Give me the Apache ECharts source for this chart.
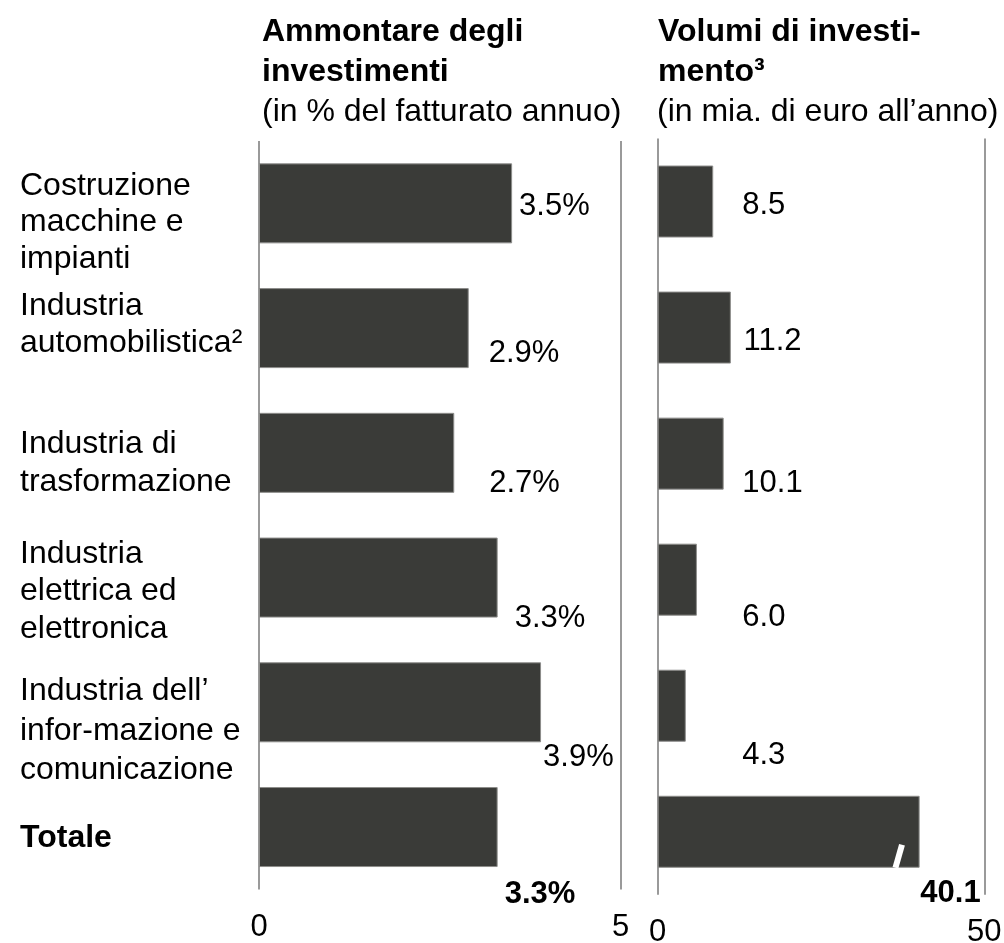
<!DOCTYPE html>
<html>
<head>
<meta charset="utf-8">
<script src="https://cdn.jsdelivr.net/npm/echarts@6/dist/echarts.min.js"></script>
<style>
html,body{margin:0;padding:0;background:#fff;}
#c{width:1004px;height:943px;}
</style>
</head>
<body>
<div id="c"></div>
<script>
// ---- data ----
const categories = [
  'Costruzione\nmacchine e\nimpianti',
  'Industria\nautomobilistica²',
  'Industria di\ntrasformazione',
  'Industria\nelettrica ed\nelettronica',
  'Industria dell’\ninfor-mazione e\ncomunicazione',
  'Totale'
];
const shareValues = [3.5, 2.9, 2.7, 3.3, 3.9, 3.3];      // % del fatturato annuo
const volumeValues = [8.5, 11.2, 10.1, 6.0, 4.3, 40.1];  // mia. di euro all'anno
const shareTicks = [0, 5];
const volumeTicks = [0, 50];
const leftTitle = 'Ammontare degli\ninvestimenti';
const leftSubtitle = '(in % del fatturato annuo)';
const rightTitle = 'Volumi di investi-\nmento³';
const rightSubtitle = '(in mia. di euro all’anno)';

// ---- layout / style (not data) ----
const FONT = '"Liberation Sans", Arial, Helvetica, sans-serif';
const BAR = '#3a3b38';
const LINE = '#9a9a9a';
const FS = 31;      // value labels / ticks
const FS_T = 32;    // titles & categories
const shareLabelOffsets = [[0, 3], [13, 25], [28, 31], [10, 41], [-5, 55], [0, 67]];
const volumeLabelOffsets = [[29, 4], [12.7, 14], [18.7, 30], [45.4, 38], [56.4, 50], [0.7, 62]];
const rowOffsets = [19, -3.5, 10, 14, 28.5, 11.5];
const rowLineHeights = [36.5, 37, 38, 37.5, 39.5, 36];
const lastIdx = categories.length - 1;

const chart = echarts.init(document.getElementById('c'), null, {renderer: 'canvas'});

function valueAxis(gridIndex, ticks, margin) {
  return {
    gridIndex: gridIndex, type: 'value',
    min: ticks[0], max: ticks[ticks.length - 1], interval: ticks[1] - ticks[0],
    axisLine: {show: false}, axisTick: {show: false},
    splitLine: {show: true, lineStyle: {color: LINE, width: 2}},
    axisLabel: {fontSize: FS, color: '#000', fontFamily: FONT, margin: margin}
  };
}
function catAxis(gridIndex) {
  return {
    gridIndex: gridIndex, type: 'category', data: categories, inverse: true,
    axisLine: {show: false}, axisTick: {show: false}, axisLabel: {show: false}, splitLine: {show: false}
  };
}
function barSeries(idx, values, offsets, distance, barWidth, fmt) {
  return {
    type: 'bar', xAxisIndex: idx, yAxisIndex: idx, barWidth: barWidth,
    itemStyle: {color: BAR, borderColor: '#8d8d8b', borderWidth: 1},
    label: {show: true, position: 'right', distance: distance, fontSize: FS, color: '#000', fontFamily: FONT,
      formatter: p => fmt(p.value)},
    data: values.map((v, i) => ({
      value: v,
      label: {offset: offsets[i], fontWeight: i === lastIdx ? 'bold' : 'normal'}
    }))
  };
}

chart.setOption({
  animation: false,
  grid: [
    {left: 259, top: 141, width: 361.6, height: 748.4, outerBoundsMode: 'none', containLabel: false},
    {left: 657.7, top: 138.5, width: 326.6, height: 756.3, outerBoundsMode: 'none', containLabel: false}
  ],
  xAxis: [valueAxis(0, shareTicks, 23), valueAxis(1, volumeTicks, 22)],
  yAxis: [catAxis(0), catAxis(1)],
  series: [
    barSeries(0, shareValues, shareLabelOffsets, 7, 80, v => v.toFixed(1) + '%'),
    barSeries(1, volumeValues, volumeLabelOffsets, 0, 72, v => v.toFixed(1))
  ]
});

// ---- text & decoration placed from the axes ----
const graphics = [];
function txt(x, y, text, bold, lh, fs) {
  graphics.push({type: 'text', x: x, y: y, silent: true, style: {
    text: text, fill: '#000', fontSize: fs || FS_T, fontFamily: FONT, fontWeight: bold ? 'bold' : 'normal',
    verticalAlign: 'middle', align: 'left', lineHeight: lh || 38
  }});
}
categories.forEach((c, i) => {
  const y = chart.convertToPixel({yAxisIndex: 0}, i);
  txt(20, y + rowOffsets[i], c, i === lastIdx, rowLineHeights[i]);
});
txt(262, 52, leftTitle, true, 40);
txt(262, 112, leftSubtitle, false);
txt(658, 52, rightTitle, true, 40);
txt(657, 112, rightSubtitle, false);

// break mark on the total volume bar
const pb = chart.convertToPixel({gridIndex: 1}, [36.4, lastIdx]);
const pt = chart.convertToPixel({gridIndex: 1}, [37.4, lastIdx]);
const barBottom = pb[1] + 36;
graphics.push({type: 'line', silent: true, z: 100,
  shape: {x1: pb[0], y1: barBottom, x2: pt[0], y2: barBottom - 23},
  style: {stroke: '#fff', lineWidth: 6}});

chart.setOption({graphic: graphics});
</script>
</body>
</html>
